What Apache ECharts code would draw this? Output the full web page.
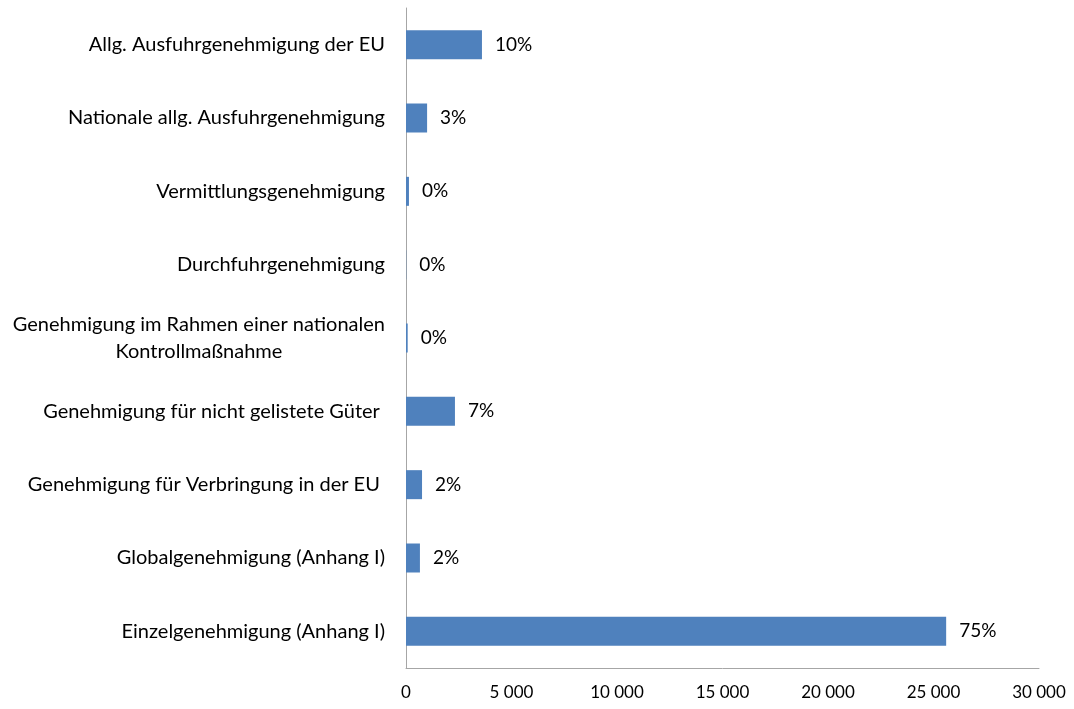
<!DOCTYPE html>
<html>
<head>
<meta charset="utf-8">
<script src="https://cdn.jsdelivr.net/npm/echarts@6/dist/echarts.min.js"></script>
<style>
html,body{margin:0;padding:0;background:#fff;}
#main{width:1074px;height:709px;}
</style>
</head>
<body>
<div id="main"></div>
<script>
// Kategorien (von unten nach oben)
var categories = [
	'Einzelgenehmigung (Anhang I)',
	'Globalgenehmigung (Anhang I)',
	'Genehmigung für Verbringung in der EU ',
	'Genehmigung für nicht gelistete Güter ',
	'Genehmigung im Rahmen einer nationalen\nKontrollmaßnahme',
	'Durchfuhrgenehmigung',
	'Vermittlungsgenehmigung',
	'Nationale allg. Ausfuhrgenehmigung',
	'Allg. Ausfuhrgenehmigung der EU'
];
var values = [25600, 660, 760, 2320, 80, 10, 140, 1000, 3600];
var shares = ['75%', '2%', '2%', '7%', '0%', '0%', '0%', '3%', '10%'];

var FONT = 'Lato';
var chart = echarts.init(document.getElementById('main'));
var option = {
	animation: false,
	grid: {left: 406, right: 35, top: 8, bottom: 41, containLabel: false},
	xAxis: {
		type: 'value',
		min: 0,
		max: 30000,
		interval: 5000,
		splitLine: {show: false},
		axisTick: {show: false},
		axisLine: {show: true, lineStyle: {color: '#a6a6a6', width: 1}},
		axisLabel: {
			color: '#000',
			fontFamily: FONT,
			fontSize: 17,
			margin: 16,
			formatter: function(v){
				return String(v).replace(/\B(?=(\d{3})+(?!\d))/g, ' ');
			}
		}
	},
	yAxis: {
		type: 'category',
		data: categories,
		axisTick: {show: false},
		axisLine: {show: true, lineStyle: {color: '#a6a6a6', width: 1}},
		axisLabel: {
			color: '#000',
			fontFamily: FONT,
			fontSize: 20,
			margin: 21,
			lineHeight: 27,
			formatter: function(v){
				if (v.indexOf('\n') < 0) return v;
				return v.split('\n').map(function(s){ return '{c|' + s + '}'; }).join('\n');
			},
			rich: {c: {align: 'center', fontFamily: FONT, fontSize: 20, lineHeight: 27, color: '#000'}}
		}
	},
	series: [{
		type: 'bar',
		data: values,
		barWidth: 29,
		itemStyle: {color: '#4f81bd'},
		label: {
			show: true,
			position: 'right',
			distance: 13,
			color: '#000',
			fontFamily: FONT,
			fontSize: 19,
			formatter: function(p){ return shares[p.dataIndex]; }
		}
	}]
};
chart.setOption(option);
</script>
</body>
</html>
